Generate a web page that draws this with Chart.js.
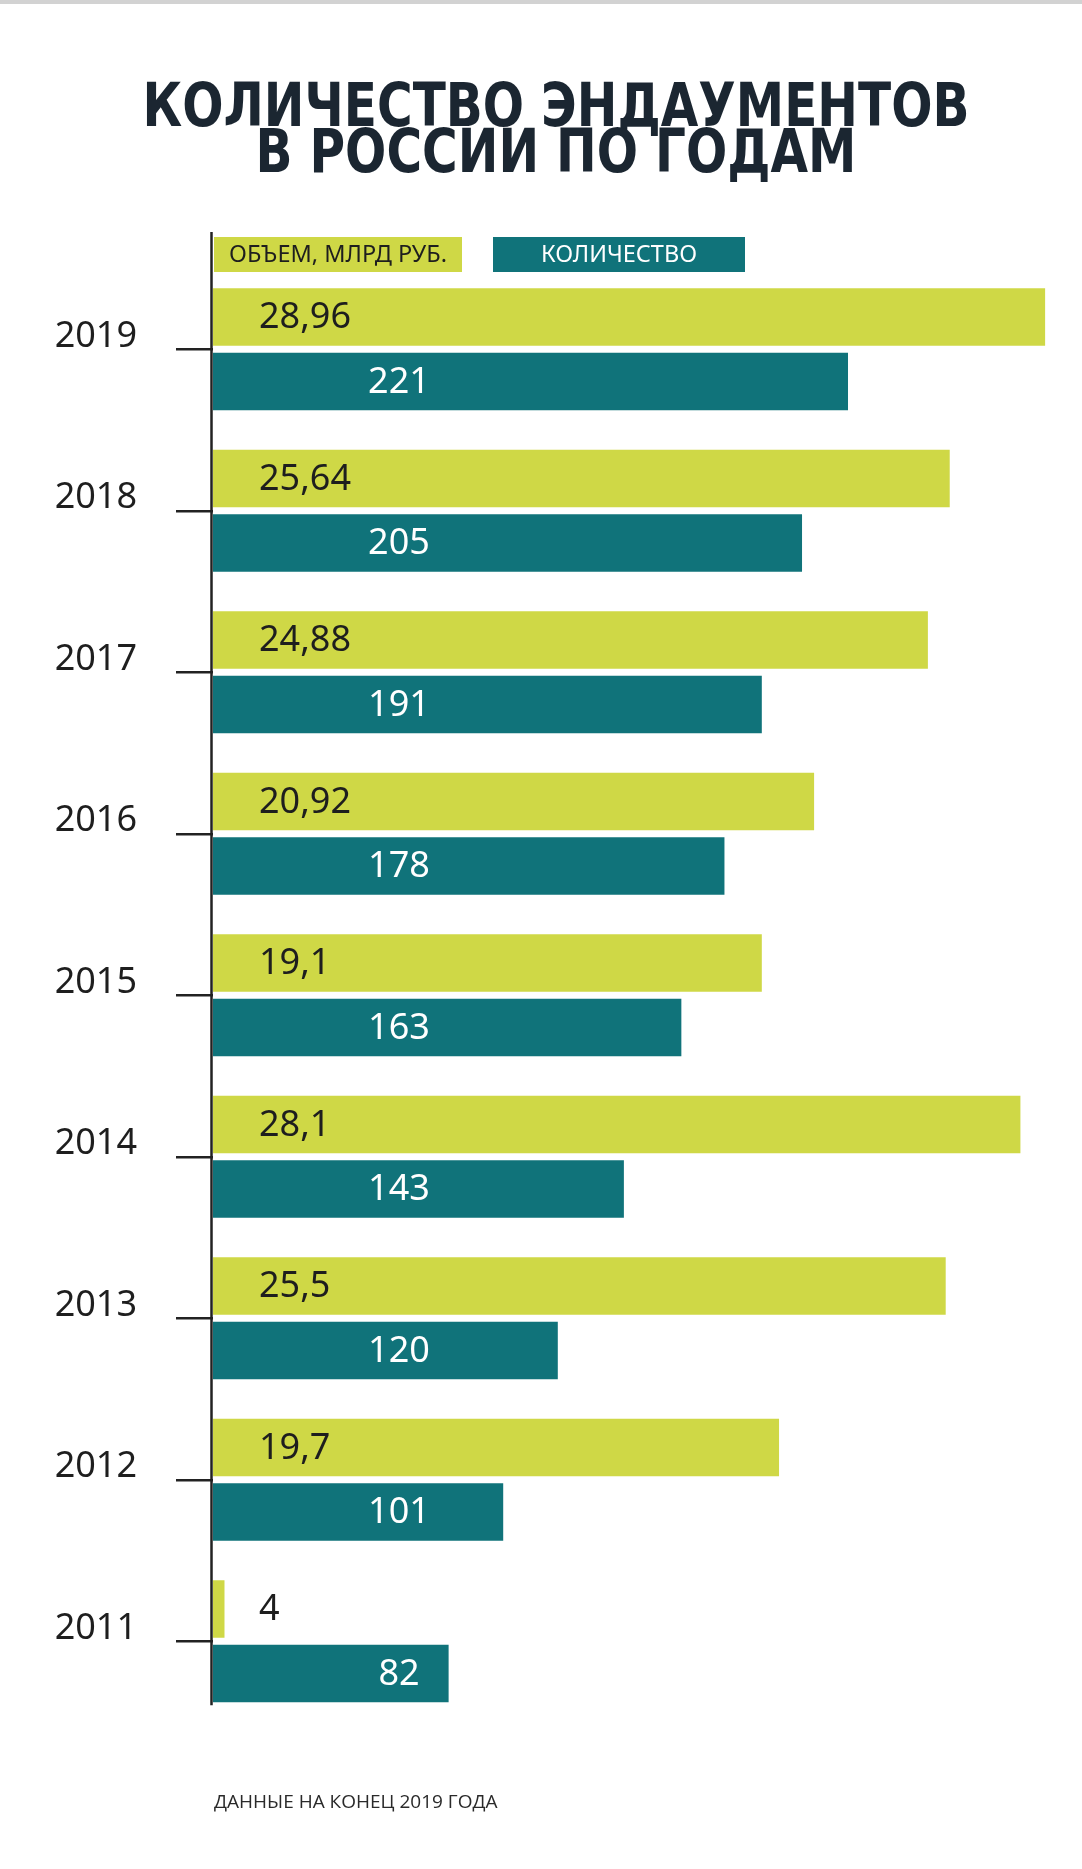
<!DOCTYPE html>
<html>
<head>
<meta charset="utf-8">
<script src="https://cdn.jsdelivr.net/npm/chart.js@4.4.1/dist/chart.umd.min.js"></script>
<style>
  html,body{margin:0;padding:0;background:#fff;}
  body{width:1082px;height:1869px;position:relative;overflow:hidden;}
  #topbar{position:absolute;left:0;top:0;width:1082px;height:4px;background:#d2d2d2;}
  #title{position:absolute;left:15px;top:82px;width:1082px;text-align:center;margin:0;
    font-family:"DejaVu Sans",sans-serif;font-weight:700;font-size:60px;line-height:46px;
    color:#1b2631;z-index:2;transform:scaleX(0.81);transform-origin:541px 0;}
  #wrap{position:absolute;left:0;top:0;width:1082px;height:1869px;}
  #note{position:absolute;left:214px;top:1788px;margin:0;
    font-family:"Open Sans",sans-serif;font-size:19px;color:#2a2a2a;z-index:2;}
</style>
</head>
<body>
<div id="topbar"></div>
<h1 id="title">КОЛИЧЕСТВО ЭНДАУМЕНТОВ<br>В РОССИИ ПО ГОДАМ</h1>
<div id="wrap"><canvas id="c"></canvas></div>
<p id="note">ДАННЫЕ НА КОНЕЦ 2019 ГОДА</p>
<script>
// ── data ─────────────────────────────────────────────
const years       = ['2019','2018','2017','2016','2015','2014','2013','2012','2011'];
const volume      = [28.96, 25.64, 24.88, 20.92, 19.1, 28.1, 25.5, 19.7, 0.4];   // bar lengths, млрд руб.
const volumeText  = ['28,96','25,64','24,88','20,92','19,1','28,1','25,5','19,7','4']; // printed labels
const counts      = [221, 205, 191, 178, 163, 143, 120, 101, 82];
const seriesNames = ['ОБЪЕМ, МЛРД РУБ.', 'КОЛИЧЕСТВО'];

const YEL = '#cfd846', TEAL = '#10737a', INK = '#1e1e1e';
const LBL_FONT = '"Noto Sans", "Open Sans", sans-serif';

// legend boxes, axis line and value labels
const decor = {
  id:'decor',
  afterDatasetsDraw(chart){
    const {ctx, chartArea:a} = chart;
    const legTop = a.top - 31.5;
    ctx.save();
    // legend
    const boxes = [[a.left+1, 248, YEL, INK], [a.left+280, 252, TEAL, '#fff']];
    ctx.font = '23.5px ' + LBL_FONT;
    ctx.textAlign = 'center'; ctx.textBaseline = 'middle';
    boxes.forEach(([x,w,bg,fg],i)=>{
      ctx.fillStyle = bg; ctx.fillRect(x, legTop, w, 35);
      ctx.fillStyle = fg; ctx.fillText(seriesNames[i], x+w/2, legTop+18);
    });
    // values
    const m0 = chart.getDatasetMeta(0), m1 = chart.getDatasetMeta(1);
    ctx.font = '36px ' + LBL_FONT;
    m0.data.forEach((b,i)=>{
      ctx.fillStyle = INK; ctx.textAlign = 'left';
      ctx.fillText(volumeText[i], a.left+46, b.y+1);
    });
    m1.data.forEach((b,i)=>{
      ctx.fillStyle = '#fff'; ctx.textAlign = 'center';
      ctx.fillText(String(counts[i]), a.left+186, b.y+1);
    });
    // vertical axis line
    const last = m1.data[m1.data.length-1];
    ctx.strokeStyle = '#222'; ctx.lineWidth = 2.5;
    ctx.beginPath();
    ctx.moveTo(a.left-1.5, legTop-5);
    ctx.lineTo(a.left-1.5, last.y + last.height/2 + 3);
    ctx.stroke();
    ctx.restore();
  }
};

new Chart(document.getElementById('c'), {
  type:'bar',
  data:{
    labels: years.map(y=>[y,'']),
    datasets:[
      {label:seriesNames[0], data:volume, xAxisID:'xv', backgroundColor:YEL,
       barPercentage:0.89, categoryPercentage:0.8},
      {label:seriesNames[1], data:counts, xAxisID:'xc', backgroundColor:TEAL,
       barPercentage:0.89, categoryPercentage:0.8}
    ]
  },
  options:{
    indexAxis:'y',
    responsive:true, maintainAspectRatio:false, animation:false,
    layout:{padding:{top:268.5, bottom:147, right:7, left:0}},
    plugins:{legend:{display:false}, tooltip:{enabled:false}},
    scales:{
      xv:{type:'linear', position:'bottom', min:0, max:30, display:false},
      xc:{type:'linear', position:'bottom', min:0, max:300, display:false},
      y:{
        afterFit(s){ s.width = 213; },
        grid:{display:true, drawOnChartArea:false, offset:false, tickLength:37,
              color:'#222', lineWidth:2.5},
        border:{display:false},
        ticks:{color:INK, padding:39, font:{family:LBL_FONT, size:36, lineHeight:'26px'}}
      }
    }
  },
  plugins:[decor]
});
</script>
</body>
</html>
